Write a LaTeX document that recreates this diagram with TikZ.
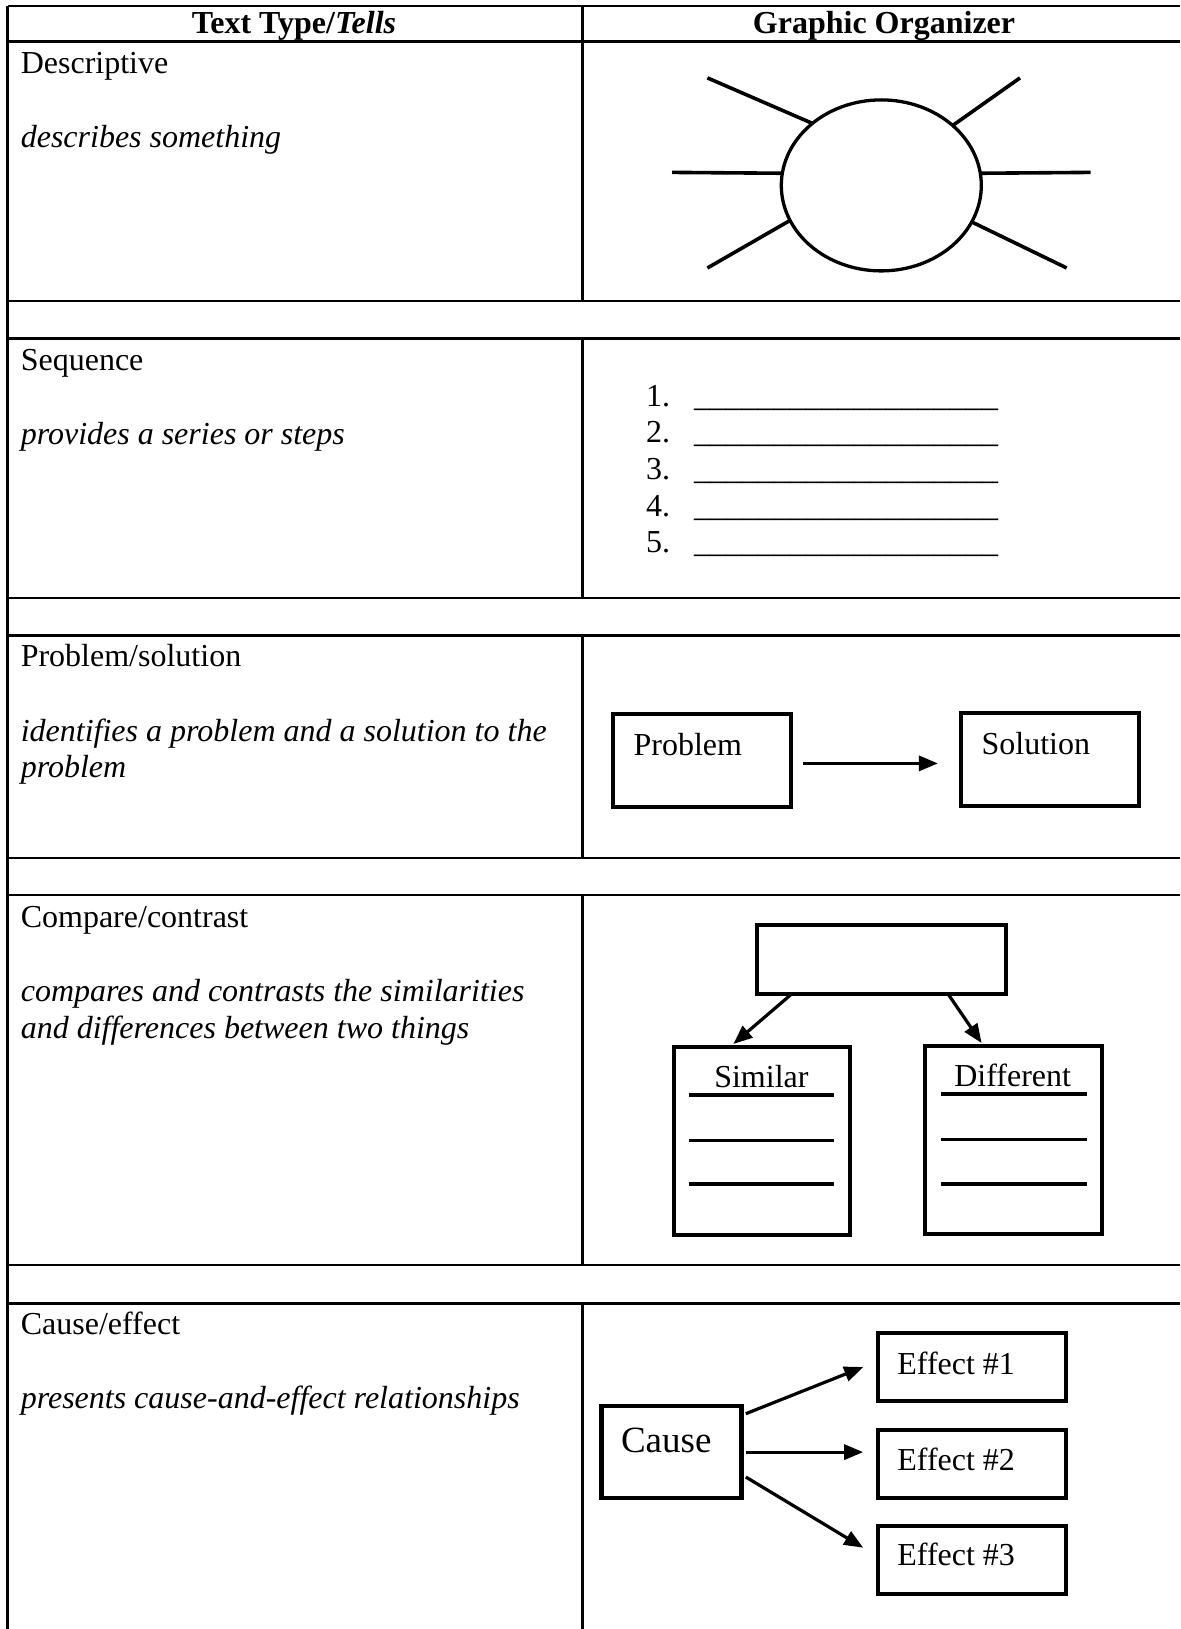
\documentclass[tikz,border=0pt]{standalone}
\usepackage{fontspec}
\setmainfont{Liberation Serif}
\usetikzlibrary{arrows.meta,calc,shapes.geometric}
\begin{document}
\begin{tikzpicture}[x=1pt,y=-1pt,
  every node/.style={inner sep=0pt, outer sep=0pt, font=\fontsize{32}{37}\selectfont},
  tline/.style={line width=2.5pt},
  gbox/.style={draw, rectangle, line width=4.1pt},
  gline/.style={line width=3.6pt},
  spoke/.style={line width=3.6pt},
  arr/.style={line width=3.2pt, -{Triangle[length=19pt,width=15pt]}},
  lbl/.style={anchor=base west},
  ctr/.style={anchor=base},
  ital/.style={anchor=base west, font=\fontsize{32}{37}\selectfont\itshape}]
\useasboundingbox (0,0) rectangle (1180,1629);
% ---------- table ----------
\foreach \yy in {6,41.5,301,338.6,598,635.7,858,895,1265,1303.6}
  \draw[tline] (7.5,\yy) -- (1180,\yy);
\draw[tline] (7.5,6) -- (7.5,1629);
\foreach \ya/\yb in {6/301,338.6/598,635.7/858,895/1265,1303.6/1629}
  \draw[tline] (582.7,\ya) -- (582.7,\yb);
% header
\node[ctr, font=\fontsize{32}{37}\selectfont\bfseries] (h1) at (294,33.3) {Text Type/\textit{Tells}};
\node[ctr, font=\fontsize{32}{37}\selectfont\bfseries] (h2) at (884,33.3) {Graphic Organizer};
% left column
\node[lbl] (t1) at (20.8,73.4) {Descriptive};
\node[ital] (d1) at (20.8,147.1) {describes something};
\node[lbl] (t2) at (20.8,370.5) {Sequence};
\node[ital] (d2) at (20.8,444.2) {provides a series or steps};
\node[lbl] (t3) at (20.8,666.5) {Problem/solution};
\node[ital] (d3a) at (20.8,741.3) {identifies a problem and a solution to the};
\node[ital] (d3b) at (20.8,777.6) {problem};
\node[lbl] (t4) at (20.8,927.2) {Compare/contrast};
\node[ital] (d4a) at (20.8,1001) {compares and contrasts the similarities};
\node[ital] (d4b) at (20.8,1038.3) {and differences between two things};
\node[lbl] (t5) at (20.8,1334.4) {Cause/effect};
\node[ital] (d5) at (20.8,1408.1) {presents cause-and-effect relationships};
% ---------- descriptive: web ----------
\node[draw, ellipse, line width=3.3pt, minimum width=200pt, minimum height=171pt] (oval) at (881.3,185.4) {};
\draw[spoke] (oval.173) -- (672,172.4);
\draw[spoke] (oval.7) -- (1090.6,172.4);
\draw[spoke] (oval.138) -- (707.4,77.9);
\draw[spoke] (oval.40) -- (1020,77.9);
\draw[spoke] (oval.201) -- (707.4,268);
\draw[spoke] (oval.338) -- (1066.7,268);
% ---------- sequence ----------
\foreach \n/\yy in {1/406.3,2/442.9,3/479.5,4/516.1,5/552.7}{
  \node[lbl] (num\n) at (646,\yy) {\n.};
  \node[lbl] (blank\n) at (694,\yy) {\_\_\_\_\_\_\_\_\_\_\_\_\_\_\_\_\_\_\_};
}
% ---------- problem / solution ----------
\node[gbox, minimum width=178pt, minimum height=93pt] (prob) at (701.6,760.7) {};
\node[gbox, minimum width=178pt, minimum height=93pt] (sol) at (1049.6,759.7) {};
\node[lbl] (probt) at (633.6,755.7) {Problem};
\node[lbl] (solt) at (981.6,754.6) {Solution};
\draw[arr] ($(prob.east)+(12.5,2.7)$) -- ($(sol.west |- prob.east)+(-22.7,2.7)$);
% ---------- compare / contrast ----------
\node[gbox, minimum width=249pt, minimum height=69pt] (top) at (881.2,959.7) {};
\node[gbox, minimum width=176pt, minimum height=188pt] (sim) at (761.8,1141) {};
\node[gbox, minimum width=176.8pt, minimum height=188pt] (dif) at (1013.7,1140) {};
\node[ctr] (simt) at (761.4,1087) {Similar};
\node[ctr] (dift) at (1012.7,1086) {Different};
\foreach \dy in {-46.2,-0.5,43}
  \draw[gline] ($(sim.center)+(-73.1,\dy)$) -- ++(145.3,0);
\foreach \dy in {-46.3,-0.6,44}
  \draw[gline] ($(dif.center)+(-72.7,\dy)$) -- ++(145.5,0);
\draw[arr] ($(top.south west)+(34.7,0)$) -- ($(sim.north west)+(59.5,-3)$);
\draw[arr] ($(top.south west)+(191.5,0)$) -- ($(dif.north west)+(56.3,-3)$);
% ---------- cause / effect ----------
\node[gbox, minimum width=140pt, minimum height=92pt] (cause) at (671.5,1452.1) {};
\node[lbl, font=\fontsize{37}{42}\selectfont] (causet) at (621,1452) {Cause};
\node[gbox, minimum width=188pt, minimum height=68pt] (e1) at (971.7,1367.4) {};
\node[gbox, minimum width=188pt, minimum height=68pt] (e2) at (971.7,1464) {};
\node[gbox, minimum width=188pt, minimum height=68pt] (e3) at (971.7,1559.6) {};
\node[lbl] (e1t) at (897.4,1374.7) {Effect \#1};
\node[lbl] (e2t) at (897.4,1470.3) {Effect \#2};
\node[lbl] (e3t) at (897.4,1565.8) {Effect \#3};
\draw[arr] ($(cause.north east)+(4.3,7.6)$) -- ($(e1.west)+(-14.5,-0.4)$);
\draw[arr] ($(cause.east)+(4.3,0)$) -- ($(e2.west |- cause.east)+(-14.5,0)$);
\draw[arr] ($(cause.east)+(4.3,24.9)$) -- ($(e3.west)+(-14.5,-11.9)$);
\end{tikzpicture}
\end{document}
